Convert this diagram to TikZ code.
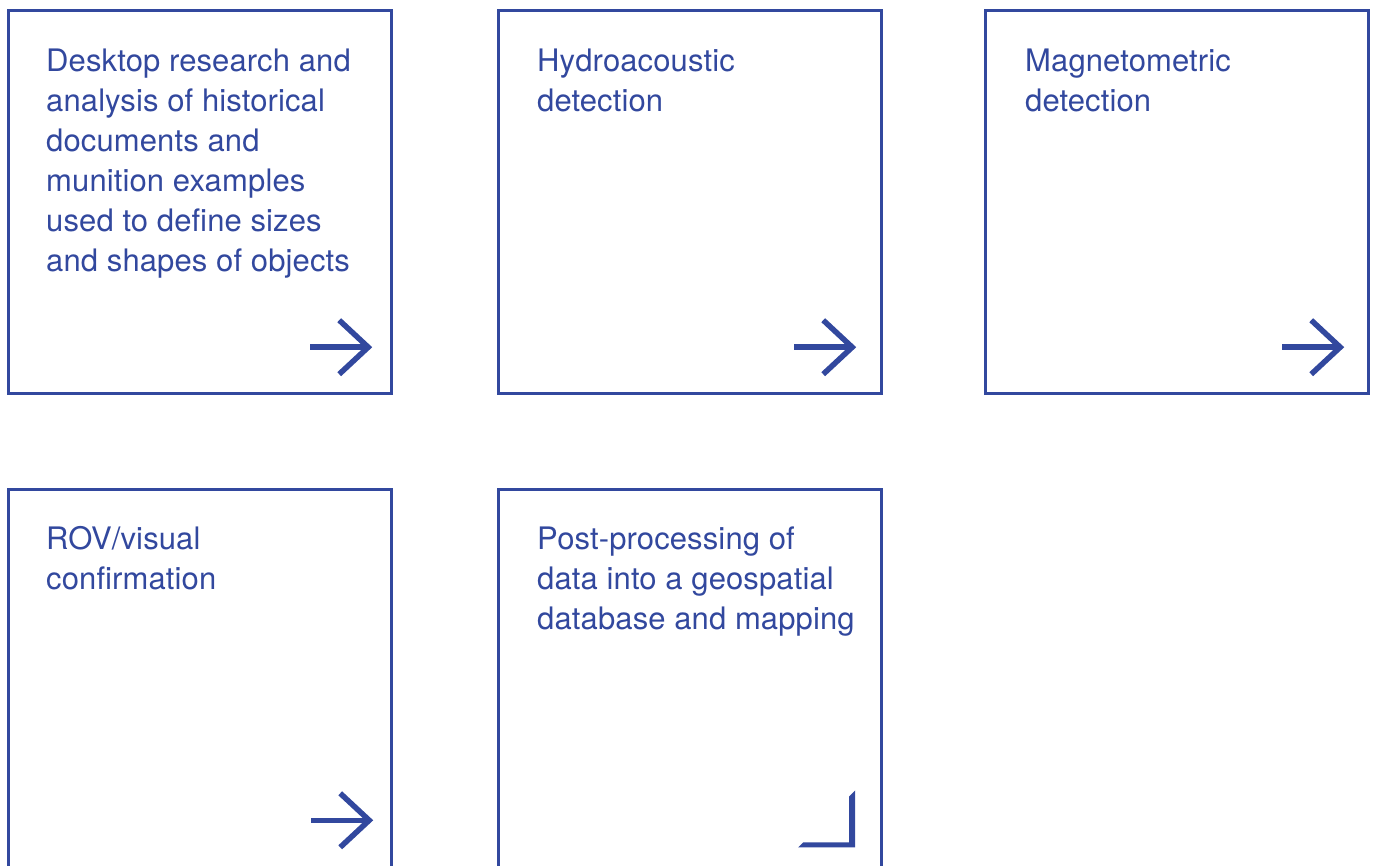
\documentclass[tikz,border=0pt]{standalone}
\usepackage{fontspec}
\setmainfont[LetterSpace=0.4]{TeX Gyre Heros}
\usetikzlibrary{positioning,calc}
\definecolor{survey}{RGB}{50,72,158}
\newcommand\nextarrow[1]{%
  \draw[mark line] ($(#1)+(-62,0)$) -- ($(#1)+(-4,0)$);
  \draw[mark line,miter limit=10] ($(#1)+(-33,-27)$) -- ($(#1)+(-4,0)$) -- ($(#1)+(-33,27)$);
}
\newcommand\finalcorner[1]{%
  \fill[survey] (#1) -- ++(-57,0) -- ++(5,-5) -- ++(46,0) -- ++(0,-46) -- ++(6,-6) -- cycle;
}
\tikzset{%
  >=latex,
  stage/.style={draw=survey,line width=2.8pt,minimum width=382.5pt,
    minimum height=382.5pt,inner sep=0pt,outer sep=0pt,anchor=north west},%
  stage text/.style={text=survey,font=\fontsize{31}{40}\selectfont,
    align=left,inner sep=0pt,outer sep=0pt},%
  mark line/.style={draw=survey,line width=5.5pt}%
}

\begin{document}
\begin{tikzpicture}[x=1pt,y=-1pt]
	%% frame of the picture
	\useasboundingbox (0,0) rectangle (1375,866);
	\clip (0,0) rectangle (1375,866);
	
	%% the five steps
	\node[stage] (desk) at (8.7,10.7) {};
	\node[stage,right=107.5pt of desk] (hydro) {};
	\node[stage,right=104.5pt of hydro] (magnet) {};
	\node[stage,below=96.6pt of desk] (rov) {};
	\node[stage,below=96.6pt of hydro] (post) {};
	
	%% texts
	\node[stage text,below right=32.5pt and 37.5pt of desk.north west] (desk text)
	  {\strut Desktop research and\\analysis of historical\\documents and\\munition examples\\used to define sizes\\and shapes of objects};
	\node[stage text,below right=32.5pt and 38.5pt of hydro.north west] (hydro text)
	  {\strut Hydroacoustic\\detection};
	\node[stage text,below right=32.5pt and 39.5pt of magnet.north west] (magnet text)
	  {\strut Magnetometric\\detection};
	\node[stage text,below right=31.5pt and 37.5pt of rov.north west] (rov text)
	  {\strut ROV/visual\\confirmation};
	\node[stage text,below right=31.5pt and 38.5pt of post.north west] (post text)
	  {\strut Post-processing of\\data into a geospatial\\database and mapping};
	
	%% arrows to the next step
	\coordinate (desk tip) at ($(desk.south east)+(-19,-46)$);
	\coordinate (hydro tip) at ($(hydro.south east)+(-25,-46)$);
	\coordinate (magnet tip) at ($(magnet.south east)+(-24,-46)$);
	\coordinate (rov tip) at ($(rov.south east)+(-18,-52)$);
	\coordinate (post end) at ($(post.south east)+(-26,-25)$);
	\nextarrow{desk tip}
	\nextarrow{hydro tip}
	\nextarrow{magnet tip}
	\nextarrow{rov tip}
	\finalcorner{post end}
\end{tikzpicture}
\end{document}
